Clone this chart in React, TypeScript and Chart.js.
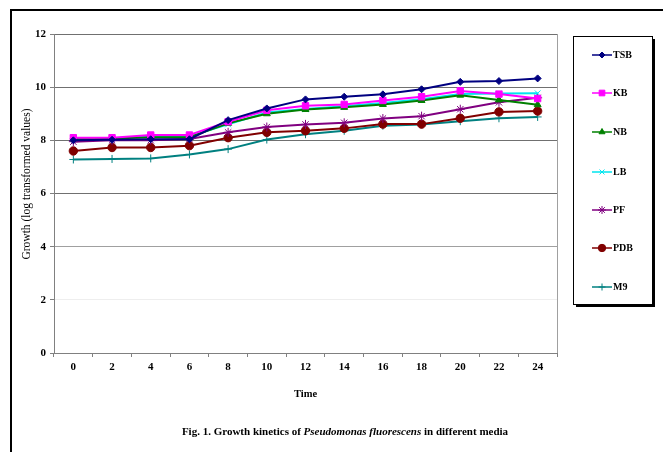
import React, { useEffect, useRef } from 'react';
import { Chart, registerables } from 'chart.js';
import { drawPoint } from 'chart.js/helpers';

Chart.register(...registerables);

// ---- data ----
const times = ['0', '2', '4', '6', '8', '10', '12', '14', '16', '18', '20', '22', '24'];
const tsb = [8.0, 8.02, 8.04, 8.04, 8.76, 9.2, 9.54, 9.64, 9.73, 9.92, 10.2, 10.23, 10.33];
const kb = [8.1, 8.1, 8.2, 8.2, 8.7, 9.13, 9.3, 9.35, 9.5, 9.64, 9.86, 9.74, 9.57];
const nb = [8.05, 8.07, 8.12, 8.12, 8.64, 9.0, 9.16, 9.24, 9.35, 9.5, 9.7, 9.52, 9.34];
const lb = [8.08, 8.08, 8.15, 8.15, 8.6, 9.05, 9.18, 9.28, 9.4, 9.55, 9.74, 9.76, 9.77];
const pf = [7.95, 8.0, 8.0, 8.05, 8.3, 8.5, 8.6, 8.66, 8.82, 8.91, 9.17, 9.43, 9.6];
const pdb = [7.6, 7.73, 7.73, 7.8, 8.1, 8.3, 8.36, 8.45, 8.61, 8.61, 8.83, 9.07, 9.1];
const m9 = [7.28, 7.3, 7.32, 7.47, 7.67, 8.03, 8.23, 8.36, 8.55, 8.6, 8.72, 8.83, 8.88];

const seriesNames = ['TSB', 'KB', 'NB', 'LB', 'PF', 'PDB', 'M9'];
const seriesValues = [tsb, kb, nb, lb, pf, pdb, m9];
const seriesColors = ['#000080', '#FF00FF', '#008000', '#00E5EE', '#800080', '#800000', '#008080'];
const seriesMarkers = ['rectRot', 'rect', 'triangle', 'crossRot', 'star', 'circle', 'cross'];
const seriesRadii = [3.5, 4.5, 4, 4, 4.5, 4.2, 4];

const yMin = 0;
const yMax = 12;
const yStep = 2;

const xTitle = 'Time';
const yTitle = 'Growth (log transformed values)';
const captionA = 'Fig. 1. Growth kinetics of ';
const captionB = 'Pseudomonas fluorescens';
const captionC = ' in different media';

const SERIF = '"Liberation Serif", "Times New Roman", serif';

const decorPlugin = {
  id: 'decor',
  afterDraw(chart: any) {
    const ctx = chart.ctx as CanvasRenderingContext2D;
    const area = chart.chartArea;
    ctx.save();
    // plot area right border
    ctx.strokeStyle = '#a0a0a0';
    ctx.lineWidth = 1;
    ctx.beginPath();
    ctx.moveTo(area.right + 0.5, area.top);
    ctx.lineTo(area.right + 0.5, area.bottom);
    ctx.stroke();

    // outer frame (top + left)
    ctx.strokeStyle = '#000';
    ctx.lineWidth = 2;
    ctx.beginPath();
    ctx.moveTo(11, 452);
    ctx.lineTo(11, 10);
    ctx.lineTo(663, 10);
    ctx.stroke();

    // y title
    ctx.fillStyle = '#000';
    ctx.font = `11.5px ${SERIF}`;
    ctx.textAlign = 'center';
    ctx.textBaseline = 'middle';
    ctx.save();
    ctx.translate(27, 184);
    ctx.rotate(-Math.PI / 2);
    ctx.fillText(yTitle, 0, 0);
    ctx.restore();

    // x title
    ctx.font = `bold 10.5px ${SERIF}`;
    ctx.fillText(xTitle, (area.left + area.right) / 2, 394);

    // caption
    const fontN = `bold 11px ${SERIF}`;
    const fontI = `italic bold 11px ${SERIF}`;
    ctx.font = fontN;
    const wA = ctx.measureText(captionA).width;
    const wC = ctx.measureText(captionC).width;
    ctx.font = fontI;
    const wB = ctx.measureText(captionB).width;
    const total = wA + wB + wC;
    let cx = 345 - total / 2;
    ctx.textAlign = 'left';
    ctx.font = fontN;
    ctx.fillText(captionA, cx, 432);
    cx += wA;
    ctx.font = fontI;
    ctx.fillText(captionB, cx, 432);
    cx += wB;
    ctx.font = fontN;
    ctx.fillText(captionC, cx, 432);

    // legend box with shadow
    const lx = 573, ly = 36, lw = 79, lh = 268;
    ctx.fillStyle = '#000';
    ctx.fillRect(lx + 3, ly + 3, lw, lh);
    ctx.fillStyle = '#fff';
    ctx.fillRect(lx, ly, lw, lh);
    ctx.strokeStyle = '#000';
    ctx.lineWidth = 1;
    ctx.strokeRect(lx + 0.5, ly + 0.5, lw, lh);

    const rowY = [55, 93, 132, 172, 210, 248, 287];
    seriesNames.forEach((name, i) => {
      const y = rowY[i];
      ctx.strokeStyle = seriesColors[i];
      ctx.fillStyle = seriesColors[i];
      ctx.lineWidth = 1.5;
      ctx.beginPath();
      ctx.moveTo(592, y);
      ctx.lineTo(612, y);
      ctx.stroke();
      ctx.lineWidth = 1;
      drawPoint(ctx, { pointStyle: seriesMarkers[i] as any, radius: seriesRadii[i] - 0.5, rotation: 0, borderWidth: 1 }, 602, y);
      ctx.fillStyle = '#000';
      ctx.font = `bold 10px ${SERIF}`;
      ctx.textAlign = 'left';
      ctx.textBaseline = 'middle';
      ctx.fillText(name, 613, y + 0.5);
    });
    ctx.restore();
  },
};

export default function App() {
  const canvasRef = useRef<HTMLCanvasElement | null>(null);

  useEffect(() => {
    const canvas = canvasRef.current;
    if (!canvas) return;
    const chart = new Chart(canvas, {
      type: 'line',
      data: {
        labels: times,
        datasets: seriesNames.map((name, i) => ({
          label: name,
          data: seriesValues[i],
          borderColor: seriesColors[i],
          backgroundColor: seriesColors[i],
          pointBackgroundColor: seriesColors[i],
          pointBorderColor: seriesColors[i],
          pointStyle: seriesMarkers[i] as any,
          pointRadius: seriesRadii[i],
          pointBorderWidth: 1,
          borderWidth: 2,
          tension: 0,
          fill: false,
        })),
      },
      options: {
        animation: false,
        responsive: true,
        maintainAspectRatio: false,
        layout: { padding: { left: 12, right: 106, top: 34, bottom: 69 } },
        plugins: {
          legend: { display: false },
          tooltip: { enabled: false },
        },
        scales: {
          x: {
            type: 'category',
            offset: true,
            grid: {
              offset: true,
              drawOnChartArea: false,
              drawTicks: true,
              tickLength: 4,
              color: '#808080',
            },
            border: { color: '#808080', width: 1 },
            ticks: {
              color: '#000',
              padding: 4,
              maxRotation: 0,
              autoSkip: false,
              font: { family: SERIF, size: 11, weight: 'bold' },
            },
            afterFit: (scale: any) => {
              scale.height = 30;
            },
          },
          y: {
            min: yMin,
            max: yMax,
            ticks: {
              stepSize: yStep,
              color: '#000',
              padding: 4,
              font: { family: SERIF, size: 11, weight: 'bold' },
            },
            grid: {
              color: (c: any) => (c.tick && c.tick.value === 2 ? '#eeeeee' : c.tick && c.tick.value === 4 ? '#a0a0a0' : '#707070'),
              tickColor: '#808080',
              tickLength: 4,
              lineWidth: 1,
            },
            border: { color: '#808080', width: 1 },
            afterFit: (scale: any) => {
              scale.width = 42;
            },
          },
        },
      },
      plugins: [decorPlugin],
    });
    return () => chart.destroy();
  }, []);

  return (
    <div style={{ position: 'absolute', left: 0, top: 0, width: 663, height: 452, background: '#fff' }}>
      <canvas ref={canvasRef} />
    </div>
  );
}
